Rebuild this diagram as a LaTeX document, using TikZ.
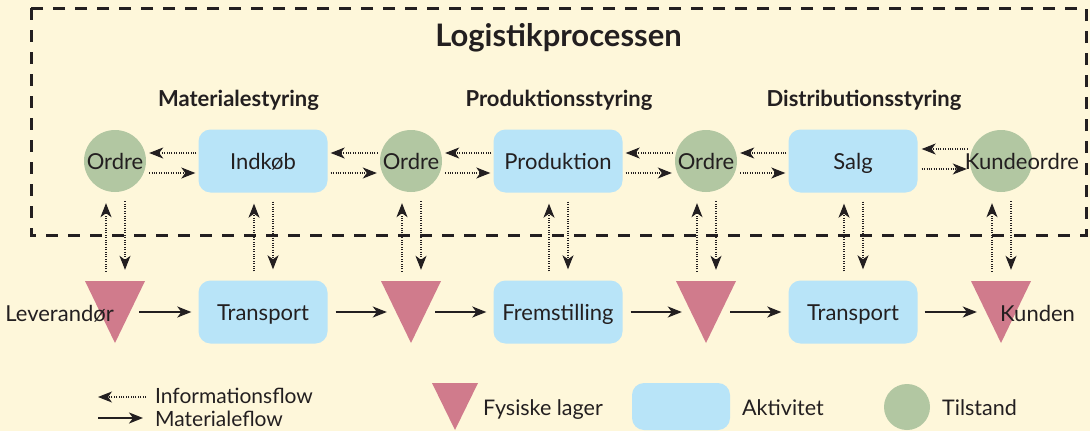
\documentclass[tikz,border=0pt]{standalone}
\usepackage{fontspec}
\setmainfont{Lato}
\usetikzlibrary{arrows.meta,calc}
\definecolor{bg}{HTML}{FEF7DA}
\definecolor{tilstand}{HTML}{B2C7A2}
\definecolor{aktiv}{HTML}{B8E4F8}
\definecolor{lager}{HTML}{D07B8C}
\definecolor{ink}{HTML}{231F20}
\begin{document}
\begin{tikzpicture}[x=1pt,y=-1pt,
  lbl/.style={font=\fontsize{22}{26}\selectfont, text=ink, inner sep=0pt, text height=16pt, text depth=0pt},
  state/.style={circle, fill=tilstand, minimum size=62pt, inner sep=0pt, lbl},
  act/.style={rectangle, rounded corners=12pt, fill=aktiv, minimum width=129pt, minimum height=63pt, inner sep=0pt, lbl},
  anch/.style={minimum width=48pt, minimum height=62pt, inner sep=0pt},
  hdr/.style={font=\fontsize{22}{26}\selectfont\bfseries, text=ink, inner sep=0pt, anchor=base},
  leg/.style={font=\fontsize{21.5}{24}\selectfont, text=ink, inner sep=0pt, anchor=base west},
  tip/.style={-{Stealth[length=14pt,width=11pt,inset=4pt]}},
  info/.style={ink, line width=1.1pt, dash pattern=on 1pt off 1.4pt, tip},
  mat/.style={ink, line width=1.8pt, tip},
  frame/.style={ink, line width=3pt, dash pattern=on 12pt off 10pt}
]
\fill[bg] (0,0) rectangle (1090,431);
\useasboundingbox (0,0) rectangle (1090,431);

% frame and headings
\draw[frame] (31,8) rectangle (1086,235);
\node[font=\fontsize{31}{36}\selectfont\bfseries, text=ink, inner sep=0pt, anchor=base] (title) at (558.5,46) {Logistikprocessen};
\node[hdr] (h1) at (238.5,106) {Materialestyring};
\node[hdr] (h2) at (559,106) {Produktionsstyring};
\node[hdr] (h3) at (864,106) {Distributionsstyring};

% top row
\node[state] (c1) at (115,161) {Ordre};
\node[act]   (b1) at (263,161) {Indkøb};
\node[state] (c2) at (411,161) {Ordre};
\node[act]   (b2) at (558,161) {Produktion};
\node[state] (c3) at (706,161) {Ordre};
\node[act]   (b3) at (853,161) {Salg};
\node[state] (c4) at (1001,161) {};
\node[lbl]   (c4t) at (1022,161) {Kundeordre};

% bottom row
\node[anch] (t1) at (115,312) {};
\node[act]  (m1) at (263,312) {Transport};
\node[anch] (t2) at (411,312) {};
\node[act]  (m2) at (558,312) {Fremstilling};
\node[anch] (t3) at (706,312) {};
\node[act]  (m3) at (853,312) {Transport};
\node[anch] (t4) at (1001,312) {};
\foreach \t in {t1,t2,t3,t4}
  \fill[lager] ($(\t)+(-30,-31)$) -- ($(\t)+(30,-31)$) -- ($(\t)+(0,31)$) -- cycle;
\node[lbl, anchor=east] (lev) at (114,313) {Leverandør};
\node[lbl, anchor=west] (kun) at (1000,313) {Kunden};

% information flow, top row
\foreach \L/\R in {c1/b1,b1/c2,c2/b2,b2/c3,c3/b3}{
  \draw[info] ($(\R.west)+(-2,-8)$) -- ($(\L.east)+(3,-8)$);
  \draw[info] ($(\L.east)+(3,12)$) -- ($(\R.west)+(-3,12)$);
}
\draw[info] ($(c4.west)+(-2,-12)$) -- ($(b3.east)+(4,-12)$);
\draw[info] ($(b3.east)+(4,8)$) -- ($(c4.west)+(-3,8)$);

% information flow, vertical
\foreach \X/\Y in {c1/t1,b1/m1,c2/t2,b2/m2,c3/t3,b3/m3,c4/t4}{
  \draw[info] ($(\Y.north)+(-9,-9)$) -- ($(\X.south)+(-9,11)$);
  \draw[info] ($(\X.south)+(10,9)$) -- ($(\Y.north)+(10,-11)$);
}

% material flow
\draw[mat] (t1.east) -- ($(m1.west)+(-7,0)$);
\draw[mat] ($(m1.east)+(8,0)$) -- (t2.west);
\draw[mat] (t2.east) -- ($(m2.west)+(-7,0)$);
\draw[mat] ($(m2.east)+(8,0)$) -- (t3.west);
\draw[mat] (t3.east) -- ($(m3.west)+(-7,0)$);
\draw[mat] ($(m3.east)+(7,0)$) -- (t4.west);

% legend
\coordinate (li1) at (146,397);
\coordinate (li2) at (98,397);
\draw[info] (li1) -- (li2);
\node[leg, font=\fontsize{21}{24}\selectfont] (lit) at (155,403) {Informationsflow};
\coordinate (lm1) at (98,418);
\coordinate (lm2) at (143,418);
\draw[mat] (lm1) -- (lm2);
\node[leg, font=\fontsize{21}{24}\selectfont] (lmt) at (155,426) {Materialeflow};
\fill[lager] (432,383) -- (478,383) -- (455,430) -- cycle;
\node[leg] (llt) at (483,415) {Fysiske lager};
\fill[aktiv, rounded corners=12pt] (632,383) rectangle (730,430);
\node[leg] (lat) at (742,415) {Aktivitet};
\fill[tilstand] (907,407) circle (23);
\node[leg] (ltt) at (942,415) {Tilstand};
\end{tikzpicture}
\end{document}
